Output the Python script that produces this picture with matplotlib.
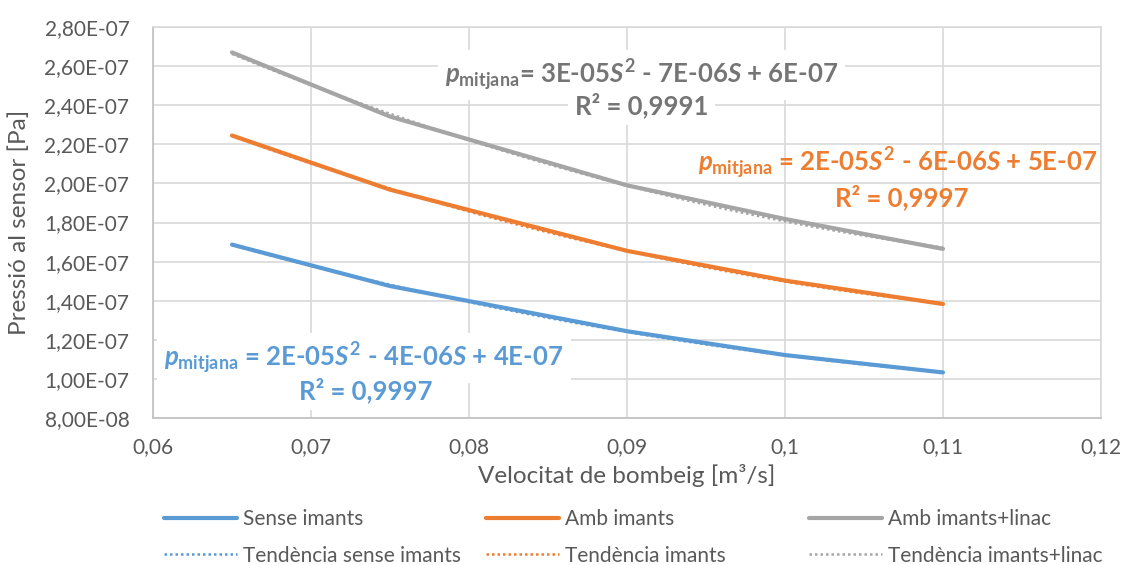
import numpy as np
import matplotlib
matplotlib.use("Agg")
import matplotlib.pyplot as plt

# Pumping speed [m^3/s] and sensor pressure [Pa]
speed = [0.065, 0.075, 0.09, 0.10, 0.11]
sense_imants = [1.687e-7, 1.475e-7, 1.244e-7, 1.122e-7, 1.033e-7]
amb_imants = [2.245e-7, 1.968e-7, 1.655e-7, 1.503e-7, 1.383e-7]
amb_imants_linac = [2.670e-7, 2.342e-7, 1.990e-7, 1.818e-7, 1.665e-7]

series_labels = ["Sense imants", "Amb imants", "Amb imants+linac"]
trend_labels = ["Tendència sense imants", "Tendència imants", "Tendència imants+linac"]
eq_texts = [
    r"$p_{\mathrm{mitjana}}\text{ = 2E-05}S^{2}\text{ - 4E-06}S\text{ + 4E-07}$",
    r"$p_{\mathrm{mitjana}}\text{ = 2E-05}S^{2}\text{ - 6E-06}S\text{ + 5E-07}$",
    r"$p_{\mathrm{mitjana}}\text{= 3E-05}S^{2}\text{ - 7E-06}S\text{ + 6E-07}$",
]
r2_texts = ["R² = 0,9997", "R² = 0,9997", "R² = 0,9991"]

x_ticks = [0.06, 0.07, 0.08, 0.09, 0.10, 0.11, 0.12]
x_ticklabels = ["0,06", "0,07", "0,08", "0,09", "0,1", "0,11", "0,12"]
y_ticks = [8e-8, 1e-7, 1.2e-7, 1.4e-7, 1.6e-7, 1.8e-7, 2e-7, 2.2e-7, 2.4e-7, 2.6e-7, 2.8e-7]
y_ticklabels = ["8,00E-08", "1,00E-07", "1,20E-07", "1,40E-07", "1,60E-07", "1,80E-07",
                "2,00E-07", "2,20E-07", "2,40E-07", "2,60E-07", "2,80E-07"]

colors = ["#5B9BD5", "#ED7D31", "#A5A5A5"]
eq_colors = ["#5B9BD5", "#ED7D31", "#757575"]
text_color = "#595959"
grid_color = "#D9D9D9"

plt.rcParams["font.family"] = ["Lato", "DejaVu Sans"]
plt.rcParams["mathtext.fontset"] = "custom"
plt.rcParams["mathtext.rm"] = "Lato:bold"
plt.rcParams["mathtext.it"] = "Lato:bold:italic"
plt.rcParams["mathtext.bf"] = "Lato:bold"

fig = plt.figure(figsize=(11.3, 5.65), dpi=100)
ax = fig.add_axes([153 / 1130, 1 - 418 / 565, (1101 - 153) / 1130, (418 - 27) / 565])

ax.set_xlim(0.06, 0.12)
ax.set_ylim(8e-8, 2.8e-7)
ax.set_xticks(x_ticks)
ax.set_xticklabels(x_ticklabels)
ax.set_yticks(y_ticks)
ax.set_yticklabels(y_ticklabels)
ax.tick_params(axis="both", colors=text_color, labelsize=15, length=0)
ax.tick_params(axis="y", pad=17)
ax.tick_params(axis="x", pad=14)
ax.grid(True, color=grid_color, linewidth=1.2)
ax.set_axisbelow(True)
for side, sp in ax.spines.items():
    sp.set_color(grid_color if side in ("top", "right") else "#BFBFBF")
    sp.set_linewidth(1.2)

ax.set_xlabel("Velocitat de bombeig [m³/s]", color=text_color, fontsize=17.5, labelpad=5)
ax.set_ylabel("Pressió al sensor [Pa]", color=text_color, fontsize=17.5, labelpad=10)

all_series = [sense_imants, amb_imants, amb_imants_linac]
xs = np.array(speed)
xfit = np.linspace(xs.min(), xs.max(), 200)
line_handles, trend_handles = [], []
for ys, c, lab, tlab in zip(all_series, colors, series_labels, trend_labels):
    h, = ax.plot(xs, ys, color=c, linewidth=3, solid_capstyle="round", label=lab, zorder=3)
    coef = np.polyfit(xs, ys, 2)
    t, = ax.plot(xfit, np.polyval(coef, xfit), color=c, linewidth=1.8,
                 linestyle=(0, (1, 1.2)), label=tlab, zorder=4)
    line_handles.append(h)
    trend_handles.append(t)

# Trendline equations
eq_pos = [(0.2226, 0.153, 0.2247, 0.0716, True),
          (0.786, 0.652, 0.790, 0.565, False),
          (0.515, 0.877, 0.515, 0.801, True)]
for (x1, y1, x2, y2, boxed), c, eq, r2 in zip(eq_pos, eq_colors, eq_texts, r2_texts):
    bb = dict(facecolor="white", edgecolor="none", pad=5) if boxed else None
    ax.text(x1, y1, eq, transform=ax.transAxes, ha="center", va="center",
            color=c, fontsize=18.5, bbox=bb, zorder=5)
    ax.text(x2, y2, r2, transform=ax.transAxes, ha="center", va="center",
            color=c, fontsize=18.5, fontweight="bold", bbox=bb, zorder=5)

# Legend: one column per series (line + trend)
col_x = [164, 486, 809]
for i in range(3):
    leg = fig.legend([line_handles[i], trend_handles[i]], [series_labels[i], trend_labels[i]],
                     loc="upper left", bbox_to_anchor=(col_x[i] / 1130, 1 - 509 / 565),
                     frameon=False, fontsize=15, handlelength=3.5, handletextpad=0.3,
                     labelspacing=0.8, borderpad=0, borderaxespad=0)
    for txt in leg.get_texts():
        txt.set_color(text_color)

fig.savefig("out.png", dpi=100, facecolor="white")
